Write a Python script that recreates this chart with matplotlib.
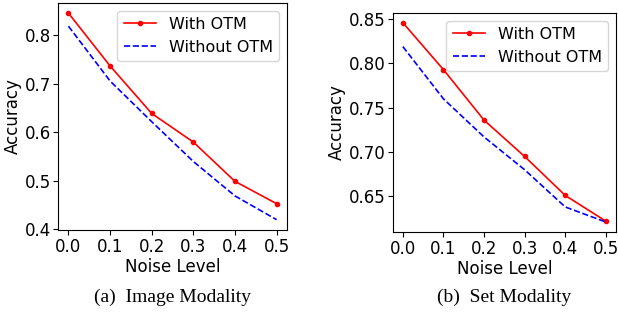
import matplotlib.pyplot as plt

noise = [0.0, 0.1, 0.2, 0.3, 0.4, 0.5]

# (a) image modality
img_with = [0.846, 0.737, 0.639, 0.580, 0.499, 0.453]
img_without = [0.819, 0.706, 0.622, 0.540, 0.469, 0.420]

# (b) set modality
set_with = [0.846, 0.793, 0.736, 0.695, 0.651, 0.622]
set_without = [0.819, 0.760, 0.717, 0.680, 0.638, 0.621]

captions = ["(a)  Image Modality", "(b)  Set Modality"]

W, H = 618, 320
fig = plt.figure(figsize=(W / 100, H / 100), dpi=100)

# axes boxes in pixels: left, top, right, bottom
boxes = [(58, 2.7, 287, 230), (392.7, 12.7, 616, 232)]
data = [(img_with, img_without, "%.1f"), (set_with, set_without, "%.2f")]

for (l, t, r, b), (w, wo, fmt), cap in zip(boxes, data, captions):
    ax = fig.add_axes([l / W, 1 - b / H, (r - l) / W, (b - t) / H])
    ax.plot(noise, w, color="red", marker=".", markersize=6, lw=1.2, label="With OTM")
    ax.plot(noise, wo, color="blue", ls="--", lw=1.2, label="Without OTM")
    ax.set_xticks(noise)
    ax.xaxis.set_major_formatter(plt.FormatStrFormatter("%.1f"))
    ax.yaxis.set_major_formatter(plt.FormatStrFormatter(fmt))
    ax.tick_params(labelsize=12)
    ax.tick_params(axis="y", pad=1.5)
    ax.tick_params(axis="x", pad=2.5)
    ax.set_xlabel("Noise Level", fontsize=12, labelpad=1)
    ax.set_ylabel("Accuracy", fontsize=12, labelpad=2)
    ax.legend(loc="upper right", fontsize=11.5, borderaxespad=0.5)
    fig.text((l + r) / 2 / W, 1 - 297 / H, cap, ha="center", va="center",
             family="Liberation Serif", fontsize=14)

fig.savefig("out.png", dpi=100)
